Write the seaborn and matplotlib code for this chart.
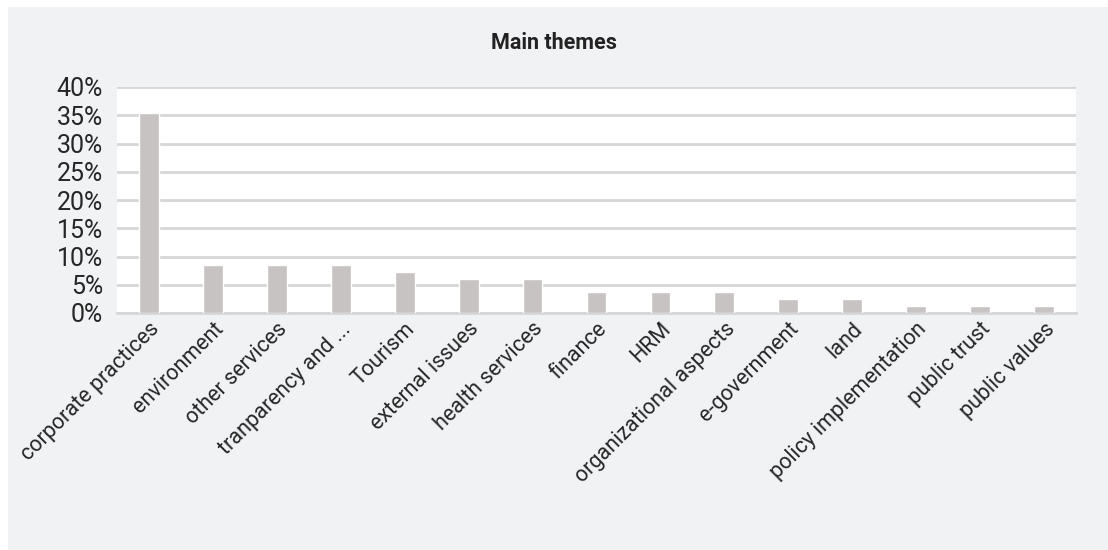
import matplotlib
matplotlib.use("Agg")
import matplotlib.pyplot as plt
from matplotlib.patches import Rectangle
from matplotlib.ticker import PercentFormatter
import seaborn as sns
import pandas as pd

themes = [
    "corporate practices", "environment", "other services", "tranparency and ...",
    "Tourism", "external issues", "health services", "finance", "HRM",
    "organizational aspects", "e-government", "land", "policy implementation",
    "public trust", "public values",
]
shares = [35.37, 8.54, 8.54, 8.54, 7.32, 6.10, 6.10, 3.66, 3.66, 3.66,
          2.44, 2.44, 1.22, 1.22, 1.22]
y_ticks = [0, 5, 10, 15, 20, 25, 30, 35, 40]

df = pd.DataFrame({"theme": themes, "share": shares})

sns.set_theme(style="white")
plt.rcParams["font.family"] = ["Roboto", "Liberation Sans", "DejaVu Sans"]

fig = plt.figure(figsize=(11.08, 5.5), dpi=100, facecolor="white")
fig.patches.append(Rectangle((8 / 1108, 0), 1, 1 - 7 / 550, transform=fig.transFigure,
                             facecolor="#f1f2f4", edgecolor="none", zorder=-10))

ax = fig.add_axes([117 / 1108, 1 - 313 / 550, (1076 - 117) / 1108, (313 - 87) / 550])
ax.set_facecolor("white")

sns.barplot(data=df, x="theme", y="share", color="#c6c3c2", width=0.31,
            saturation=1, ax=ax, zorder=3)

ax.set_ylim(0, 40)
ax.set_yticks(y_ticks)
ax.yaxis.set_major_formatter(PercentFormatter(decimals=0))
ax.grid(axis="y", color="#d6d6d6", linewidth=2, zorder=0)
ax.set_axisbelow(True)
for side in ["top", "right", "left"]:
    ax.spines[side].set_visible(False)
ax.spines["bottom"].set_color("#d6d6d6")
ax.spines["bottom"].set_linewidth(2)
ax.tick_params(axis="both", length=0)
ax.tick_params(axis="y", labelsize=18, colors="#262626", pad=10)
ax.tick_params(axis="x", labelsize=15.5, colors="#262626", pad=4)
plt.setp(ax.get_xticklabels(), rotation=45, ha="right", rotation_mode="anchor")
ax.set_xlabel("")
ax.set_ylabel("")

fig.text(0.5, 1 - 43 / 550, "Main themes", ha="center", va="center",
         fontsize=15.5, fontweight="bold", color="#222222")

fig.savefig("out.png", dpi=100, facecolor=fig.get_facecolor())
